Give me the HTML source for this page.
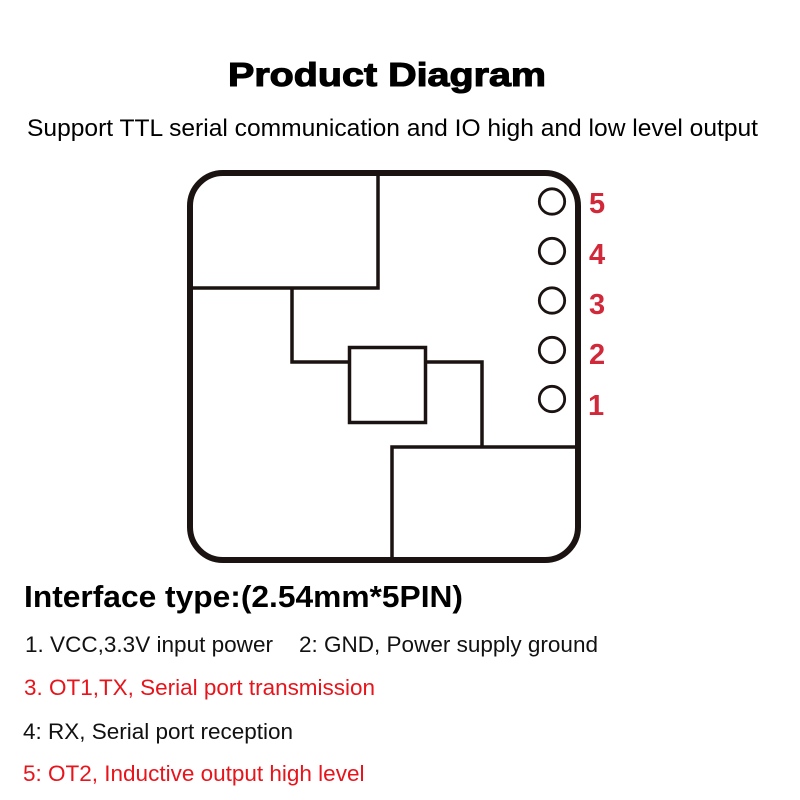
<!DOCTYPE html>
<html>
<head>
<meta charset="utf-8">
<style>
  html, body { margin: 0; padding: 0; background: #ffffff; }
  body { width: 800px; height: 800px; overflow: hidden; }
  svg { display: block; }
  text { font-family: "Liberation Sans", Arial, sans-serif; }
</style>
</head>
<body>
<svg width="800" height="800" viewBox="0 0 800 800" xmlns="http://www.w3.org/2000/svg">
  <rect x="0" y="0" width="800" height="800" fill="#ffffff"/>

  <!-- Title -->
  <text x="228" y="86" font-size="33" font-weight="bold" fill="#000" stroke="#000" stroke-width="1.1" textLength="318" lengthAdjust="spacingAndGlyphs">Product Diagram</text>
  <text x="27" y="136" font-size="24.5" fill="#000" textLength="731" lengthAdjust="spacingAndGlyphs">Support TTL serial communication and IO high and low level output</text>

  <!-- Board -->
  <g fill="none" stroke="#1a1311" stroke-linecap="butt">
    <rect x="190" y="173" width="388" height="387" rx="33" ry="33" stroke-width="6"/>
    <polyline points="378,173 378,288 190,288" stroke-width="3.5"/>
    <polyline points="292,288 292,362 349,362" stroke-width="3.5"/>
    <rect x="349.5" y="347.5" width="76" height="75" stroke-width="3.5"/>
    <polyline points="426,362 482,362 482,447" stroke-width="3.5"/>
    <polyline points="578,447 392,447 392,560" stroke-width="3.5"/>
    <circle cx="552" cy="201.5" r="12.7" stroke-width="2.8"/>
    <circle cx="552" cy="251" r="12.7" stroke-width="2.8"/>
    <circle cx="552" cy="300.5" r="12.7" stroke-width="2.8"/>
    <circle cx="552" cy="350" r="12.7" stroke-width="2.8"/>
    <circle cx="552" cy="399" r="12.7" stroke-width="2.8"/>
  </g>

  <!-- Pin numbers -->
  <g font-size="29" font-weight="bold" fill="#d1293a">
    <text x="589" y="213">5</text>
    <text x="589" y="264">4</text>
    <text x="589" y="314">3</text>
    <text x="589" y="364">2</text>
    <text x="588" y="415">1</text>
  </g>

  <!-- Interface description -->
  <text x="24" y="607" font-size="31" font-weight="bold" fill="#000" textLength="439" lengthAdjust="spacingAndGlyphs">Interface type:(2.54mm*5PIN)</text>

  <g font-size="22.5">
    <text x="25" y="652" fill="#111" textLength="248" lengthAdjust="spacingAndGlyphs">1. VCC,3.3V input power</text>
    <text x="299" y="652" fill="#111" textLength="299" lengthAdjust="spacingAndGlyphs">2: GND, Power supply ground</text>
    <text x="24" y="695" fill="#e8141b" textLength="351" lengthAdjust="spacingAndGlyphs">3. OT1,TX, Serial port transmission</text>
    <text x="23" y="739" fill="#111" textLength="270" lengthAdjust="spacingAndGlyphs">4: RX, Serial port reception</text>
    <text x="23" y="781" fill="#e8141b">5: OT2, Inductive output high level</text>
  </g>
</svg>
</body>
</html>
